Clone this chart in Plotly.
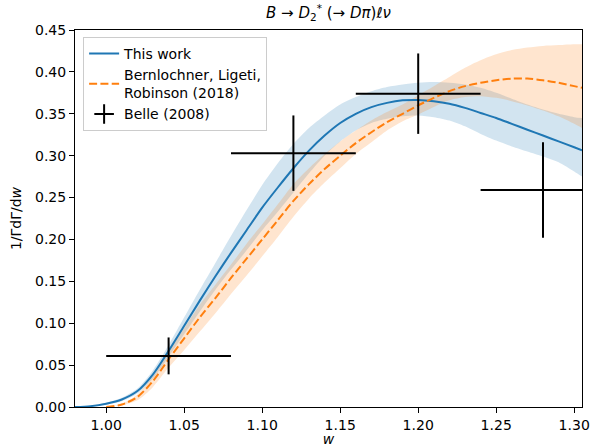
import plotly.graph_objects as go

# ---- data ----
w = [0.98, 0.99, 1.00, 1.01, 1.02, 1.03, 1.04, 1.05, 1.06, 1.07, 1.08, 1.09, 1.10,
     1.11, 1.12, 1.13, 1.14, 1.15, 1.16, 1.17, 1.18, 1.19, 1.20, 1.21, 1.22, 1.23,
     1.24, 1.25, 1.26, 1.27, 1.28, 1.29, 1.30, 1.305]

this_work = [0.000, 0.001, 0.004, 0.009, 0.019, 0.039, 0.067, 0.097, 0.127, 0.156,
             0.184, 0.211, 0.238, 0.262, 0.285, 0.306, 0.324, 0.339, 0.350, 0.358,
             0.363, 0.366, 0.3665, 0.365, 0.362, 0.357, 0.351, 0.345, 0.338, 0.331,
             0.324, 0.317, 0.310, 0.3065]
this_work_lo = [0.000, 0.0005, 0.003, 0.007, 0.016, 0.034, 0.060, 0.087, 0.114, 0.140,
                0.164, 0.187, 0.211, 0.233, 0.256, 0.279, 0.300, 0.317, 0.330, 0.339,
                0.344, 0.347, 0.348, 0.346, 0.342, 0.335, 0.326, 0.318, 0.311, 0.305,
                0.299, 0.292, 0.281, 0.275]
this_work_hi = [0.000, 0.0015, 0.005, 0.011, 0.022, 0.044, 0.074, 0.107, 0.140, 0.172,
                0.204, 0.235, 0.265, 0.291, 0.314, 0.333, 0.348, 0.361, 0.370, 0.377,
                0.382, 0.385, 0.387, 0.388, 0.387, 0.385, 0.381, 0.375, 0.368, 0.361,
                0.355, 0.350, 0.346, 0.345]

blr = [None, None, 0.000, 0.003, 0.012, 0.031, 0.057, 0.082, 0.107, 0.130, 0.154,
       0.177, 0.200, 0.223, 0.246, 0.266, 0.284, 0.300, 0.315, 0.328, 0.340, 0.350,
       0.360, 0.369, 0.377, 0.383, 0.387, 0.390, 0.392, 0.392, 0.390, 0.387, 0.383, 0.381]
blr_lo = [None, None, 0.000, 0.002, 0.008, 0.024, 0.047, 0.068, 0.090, 0.112, 0.135,
          0.157, 0.180, 0.203, 0.227, 0.249, 0.268, 0.285, 0.302, 0.316, 0.330, 0.341,
          0.349, 0.358, 0.366, 0.370, 0.371, 0.369, 0.365, 0.360, 0.354, 0.347, 0.338, 0.333]
blr_hi = [None, None, 0.000, 0.004, 0.015, 0.037, 0.066, 0.094, 0.122, 0.146, 0.170,
          0.195, 0.218, 0.242, 0.266, 0.285, 0.302, 0.317, 0.330, 0.342, 0.352, 0.361,
          0.372, 0.383, 0.394, 0.405, 0.414, 0.421, 0.426, 0.429, 0.431, 0.432, 0.433, 0.433]

belle_w = [1.04, 1.12, 1.20, 1.28]
belle_w_err = [0.04, 0.04, 0.04, 0.04]
belle_val = [0.061, 0.303, 0.374, 0.259]
belle_err = [0.022, 0.045, 0.048, 0.057]

x_ticks = [1.00, 1.05, 1.10, 1.15, 1.20, 1.25, 1.30]
y_ticks = [0.00, 0.05, 0.10, 0.15, 0.20, 0.25, 0.30, 0.35, 0.40, 0.45]

BLUE = "#1f77b4"
ORANGE = "#ff7f0e"
FONT = "DejaVu Sans"
SM = 0.8

fig = go.Figure()

# bands
fig.add_trace(go.Scatter(x=w, y=this_work_lo, mode="lines",
                         line=dict(width=0, shape="spline", smoothing=SM),
                         showlegend=False, hoverinfo="skip"))
fig.add_trace(go.Scatter(x=w, y=this_work_hi, mode="lines",
                         line=dict(width=0, shape="spline", smoothing=SM),
                         fill="tonexty", fillcolor="rgba(31,119,180,0.2)",
                         showlegend=False, hoverinfo="skip"))
fig.add_trace(go.Scatter(x=w[2:], y=blr_lo[2:], mode="lines",
                         line=dict(width=0, shape="spline", smoothing=SM),
                         showlegend=False, hoverinfo="skip"))
fig.add_trace(go.Scatter(x=w[2:], y=blr_hi[2:], mode="lines",
                         line=dict(width=0, shape="spline", smoothing=SM),
                         fill="tonexty", fillcolor="rgba(255,127,14,0.2)",
                         showlegend=False, hoverinfo="skip"))

# central curves
fig.add_trace(go.Scatter(x=w, y=this_work, mode="lines", name="This work",
                         line=dict(color=BLUE, width=2, shape="spline", smoothing=SM)))
fig.add_trace(go.Scatter(x=w[2:], y=blr[2:], mode="lines",
                         name="Bernlochner, Ligeti,<br>Robinson (2018)",
                         line=dict(color=ORANGE, width=2, dash="8px,3.3px",
                                   shape="spline", smoothing=SM)))

# Belle data
fig.add_trace(go.Scatter(x=belle_w, y=belle_val, mode="markers",
                         marker=dict(size=1, color="black", opacity=0),
                         error_x=dict(type="data", array=belle_w_err, color="black",
                                      thickness=2, width=0),
                         error_y=dict(type="data", array=belle_err, color="black",
                                      thickness=2, width=0),
                         showlegend=False, hoverinfo="skip"))
fig.add_trace(go.Scatter(x=[None], y=[None], mode="markers", name="Belle (2008)",
                         marker=dict(symbol="cross-thin", size=14, color="black",
                                     line=dict(color="black", width=2))))

fig.update_layout(
    width=595, height=447,
    margin=dict(l=75, r=13, t=30, b=40, autoexpand=False),
    paper_bgcolor="white", plot_bgcolor="white",
    font=dict(family=FONT, size=14, color="black"),
    title=dict(text="<i>B</i> → <i>D</i><sub>2</sub><sup>*</sup> (→ <i>Dπ</i>)<i>ℓν</i>",
               x=(75 + 582) / 2 / 595, xanchor="center", y=1 - 13 / 447, yanchor="middle",
               font=dict(family=FONT, size=15)),
    legend=dict(x=0.016, y=0.982, xanchor="left", yanchor="top", traceorder="normal",
                bgcolor="rgba(255,255,255,0.8)", bordercolor="#cccccc", borderwidth=1,
                font=dict(family=FONT, size=14), tracegroupgap=0),
    showlegend=True,
)
fig.update_xaxes(range=[0.98, 1.305], tickvals=x_ticks, automargin=False,
                 ticktext=[f"{v:.2f}" for v in x_ticks],
                 showgrid=False, zeroline=False, showline=True, linecolor="black",
                 linewidth=1, mirror=True, ticks="outside", ticklen=5, tickwidth=1,
                 tickcolor="black", tickfont=dict(size=14),
                 title=dict(text="<i>w</i>", standoff=5, font=dict(family=FONT, size=14)))
fig.update_yaxes(range=[0, 0.45], tickvals=y_ticks, automargin=False,
                 ticktext=[f"{v:.2f}" for v in y_ticks],
                 showgrid=False, zeroline=False, showline=True, linecolor="black",
                 linewidth=1, mirror=True, ticks="outside", ticklen=5, tickwidth=1,
                 tickcolor="black", tickfont=dict(size=14),
                 title=dict(text="1/ΓdΓ/d<i>w</i>", standoff=10, font=dict(family=FONT, size=14)))

fig.write_html("out.html", config={"displayModeBar": False},
               post_script="document.body.style.margin='0px';")
